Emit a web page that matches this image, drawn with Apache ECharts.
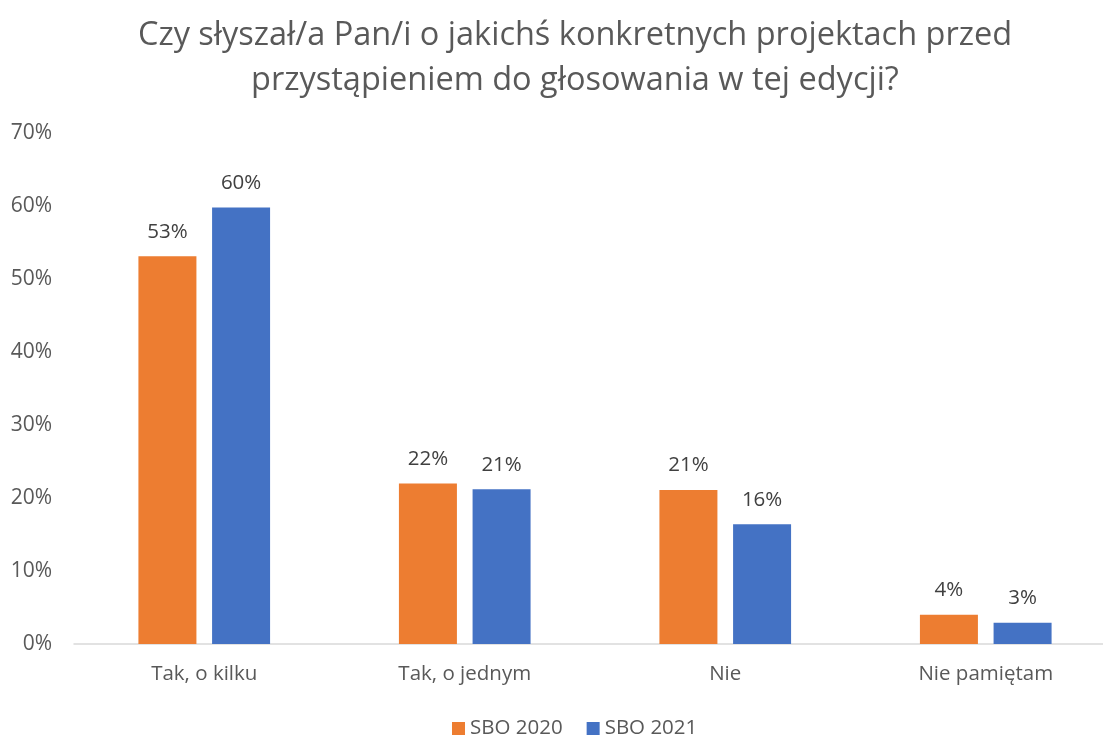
<!DOCTYPE html>
<html>
<head>
<meta charset="utf-8">
<script src="https://cdn.jsdelivr.net/npm/echarts@6/dist/echarts.min.js"></script>
<style>
  html, body { margin: 0; padding: 0; background: #fff; }
  #chart { width: 1103px; height: 738px; }
</style>
</head>
<body>
<div id="chart"></div>
<script>
  const titleText = 'Czy słyszał/a Pan/i o jakichś konkretnych projektach przed\nprzystąpieniem do głosowania w tej edycji?'
  const categories = ['Tak, o kilku', 'Tak, o jednym', 'Nie', 'Nie pamiętam']
  const seriesNames = ['SBO 2020', 'SBO 2021']
  const sbo2020 = [53.1, 22.0, 21.1, 4.0]
  const sbo2021 = [59.8, 21.2, 16.4, 2.9]
  const yTicks = [0, 10, 20, 30, 40, 50, 60, 70]

  const font = 'Open Sans'
  const chart = echarts.init(document.getElementById('chart'))

  function barSeries(name, data, color) {
    return {
      name: name,
      type: 'bar',
      data: data,
      barWidth: 58,
      barGap: '27%',
      itemStyle: { color: color },
      label: {
        show: true,
        position: 'top',
        distance: 14,
        color: '#404040',
        fontFamily: font,
        fontSize: 20.5,
        formatter: p => Math.round(p.value) + '%'
      }
    }
  }

  chart.setOption({
    animation: false,
    title: {
      text: titleText,
      left: 570,
      top: 8,
      textAlign: 'center',
      textStyle: {
        color: '#595959',
        fontFamily: font,
        fontSize: 32.5,
        fontWeight: 'normal',
        lineHeight: 45
      }
    },
    legend: {
      data: seriesNames,
      top: 713,
      left: 447,
      itemWidth: 13,
      itemHeight: 13,
      itemGap: 24,
      icon: 'rect',
      textStyle: { color: '#595959', fontFamily: font, fontSize: 20.5 }
    },
    grid: {
      left: 74,
      width: 1042,
      top: 133,
      bottom: 94,
      outerBoundsMode: 'none',
      containLabel: false
    },
    xAxis: {
      type: 'category',
      data: categories,
      axisTick: { show: false },
      axisLine: { lineStyle: { color: '#d9d9d9', width: 1.5 } },
      axisLabel: { color: '#595959', fontFamily: font, fontSize: 20.5, margin: 20 }
    },
    yAxis: {
      type: 'value',
      min: yTicks[0],
      max: yTicks[yTicks.length - 1],
      interval: 10,
      splitLine: { show: false },
      axisLine: { show: false },
      axisTick: { show: false },
      axisLabel: {
        color: '#595959',
        fontFamily: font,
        fontSize: 21,
        margin: 22,
        formatter: v => v + '%'
      }
    },
    series: [
      barSeries(seriesNames[0], sbo2020, '#ED7D31'),
      barSeries(seriesNames[1], sbo2021, '#4472C4')
    ]
  })
</script>
</body>
</html>
